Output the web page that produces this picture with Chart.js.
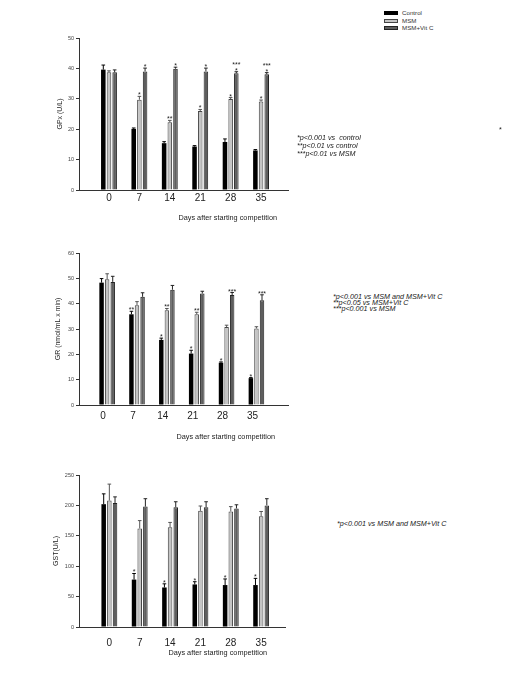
<!DOCTYPE html>
<html>
<head>
<meta charset="utf-8">
<script src="https://cdn.jsdelivr.net/npm/chart.js@4/dist/chart.umd.min.js"></script>
<style>
  html, body { margin: 0; padding: 0; background: #fff; }
  body { width: 513px; height: 685px; position: relative; overflow: hidden; font-family: "Liberation Sans", Arial, sans-serif; }
  .box { position: absolute; left: 0; width: 300px; height: 240px; }
  .note { position: absolute; font-style: italic; font-size: 7.2px; color: #222; line-height: 8px; white-space: nowrap; }
  .legend { position: absolute; left: 384px; top: 9px; font-size: 6.2px; color: #333; }
  .legend div { height: 7.5px; line-height: 7.5px; white-space: nowrap; }
  .legend span.sw { display: inline-block; width: 14px; height: 4px; box-sizing: border-box; margin-right: 4px; vertical-align: middle; }
</style>
</head>
<body>
<div class="legend">
  <div><span class="sw" style="background:#000"></span>Control</div>
  <div><span class="sw" style="background:#c4c4c4;border:1px solid #444"></span>MSM</div>
  <div><span class="sw" style="background:#5e5e5e;border:1px solid #222"></span>MSM+Vit C</div>
</div>

<div class="box" style="top:0px"><canvas id="c1"></canvas></div>
<div class="box" style="top:215px"><canvas id="c2"></canvas></div>
<div class="box" style="top:437px"><canvas id="c3"></canvas></div>

<div class="note" style="left:297px; top:134px; line-height:8px;">*p&lt;0.001 vs &nbsp;control<br>**p&lt;0.01 vs control<br>***p&lt;0.01 vs MSM</div>
<div class="note" style="left:499px; top:126px; font-style:normal;">*</div>
<div class="note" style="left:333px; top:294px; line-height:6px;">*p&lt;0.001 vs MSM and MSM+Vit C<br>**p&lt;0.05 vs MSM+Vit C<br>***p&lt;0.001 vs MSM</div>
<div class="note" style="left:337px; top:520px;">*p&lt;0.001 vs MSM and MSM+Vit C</div>

<script>
// ---------- data ----------
const days = [0, 7, 14, 21, 28, 35];
const seriesNames = ['Control', 'MSM', 'MSM+Vit C'];
const xTitleText = 'Days after starting competition';

// GPx (U/L)
const gpxControl    = [39.6, 20.1, 15.4, 14.3, 15.8, 13.0];
const gpxControlErr = [1.5, 0.3, 0.5, 0.3, 1.0, 0.3];
const gpxMSM        = [38.7, 29.7, 22.3, 26.0, 29.9, 29.1];
const gpxMSMErr     = [0.5, 1.1, 0.6, 0.5, 0.5, 0.5];
const gpxVitC       = [38.7, 39.0, 39.9, 39.0, 38.4, 38.1];
const gpxVitCErr    = [0.8, 1.1, 0.5, 1.1, 0.5, 0.5];
const gpxControlMarks = ['', '', '', '', '', ''];
const gpxMSMMarks     = ['', '*', '**', '*', '*', '*'];
const gpxVitCMarks    = ['', '*', '*', '*', '***\n*', '***\n*'];
const gpxTicks = [0, 10, 20, 30, 40, 50];

// GR (nmol/mL x min)
const grControl    = [48.3, 35.8, 25.7, 20.3, 16.7, 10.6];
const grControlErr = [1.6, 1.2, 0.7, 1.3, 0.3, 0.2];
const grMSM        = [49.6, 39.4, 37.4, 35.8, 30.8, 30.2];
const grMSMErr     = [2.2, 1.4, 0.7, 0.8, 0.7, 0.7];
const grVitC       = [48.6, 42.7, 45.5, 44.0, 43.4, 41.3];
const grVitCErr    = [2.2, 1.6, 1.7, 0.9, 1.0, 2.2];
const grControlMarks = ['', '**', '*', '*', '*', '*'];
const grMSMMarks     = ['', '', '**', '**', '', ''];
const grVitCMarks    = ['', '', '', '', '***', '***'];
const grTicks = [0, 10, 20, 30, 40, 50, 60];

// GST (U/L)
const gstControl    = [202, 78, 65, 70, 69, 69];
const gstControlErr = [17, 10, 6, 4.5, 10, 11];
const gstMSM        = [208, 162, 164, 191, 190, 182];
const gstMSMErr     = [27, 13, 8, 8, 8, 8];
const gstVitC       = [204, 198, 197, 197, 195, 200];
const gstVitCErr    = [10, 13, 9, 9, 6, 11];
const gstControlMarks = ['', '*', '*', '*', '*', '*'];
const gstMSMMarks     = ['', '', '', '', '', ''];
const gstVitCMarks    = ['', '', '', '', '', ''];
const gstTicks = [0, 50, 100, 150, 200, 250];

// ---------- styling ----------
Chart.defaults.font.family = '"Liberation Sans", Arial, sans-serif';
Chart.defaults.animation = false;

const barStyles = [
  { backgroundColor: '#000000', borderColor: '#000000', errColor: '#000000' },
  { backgroundColor: '#c4c4c4', borderColor: '#444444', errColor: '#555555' },
  { backgroundColor: '#5e5e5e', borderColor: '#222222', errColor: '#222222' }
];

const errorBarsPlugin = {
  id: 'errorBars',
  afterDatasetsDraw(chart) {
    const ctx = chart.ctx;
    const ys = chart.scales.y;
    ctx.save();
    chart.data.datasets.forEach((ds, i) => {
      const meta = chart.getDatasetMeta(i);
      meta.data.forEach((bar, j) => {
        const v = ds.data[j].y;
        const e = ds.errors[j];
        const top = ys.getPixelForValue(v + e);
        const half = bar.width * 0.4;
        ctx.strokeStyle = ds.errColor;
        ctx.lineWidth = 1;
        ctx.beginPath();
        ctx.moveTo(bar.x, bar.y);
        ctx.lineTo(bar.x, top);
        ctx.moveTo(bar.x - half, top);
        ctx.lineTo(bar.x + half, top);
        ctx.stroke();
        const m = ds.marks[j];
        if (m) {
          const lines = m.split('\n').reverse();
          ctx.fillStyle = '#222';
          ctx.font = '7px "Liberation Sans", Arial, sans-serif';
          ctx.textAlign = 'center';
          ctx.textBaseline = 'alphabetic';
          lines.forEach((t, k) => {
            ctx.fillText(t, bar.x, top + 1 - k * 6);
          });
        }
      });
    });
    ctx.restore();
  }
};

// x-axis title, right-aligned a little inside the end of the axis line
const xTitlePlugin = {
  id: 'xTitle',
  afterDraw(chart, args, opts) {
    const ctx = chart.ctx;
    const area = chart.chartArea;
    ctx.save();
    ctx.fillStyle = '#222';
    ctx.font = '7.3px "Liberation Sans", Arial, sans-serif';
    ctx.textAlign = 'right';
    ctx.textBaseline = 'middle';
    ctx.fillText(opts.text, area.right + opts.dx, area.bottom + opts.dy);
    ctx.restore();
  }
};

function makeChart(id, cfg) {
  const datasets = cfg.series.map((s, i) => ({
    label: seriesNames[i],
    data: days.map((d, j) => ({ x: d, y: s.values[j] })),
    errors: s.errors,
    marks: s.marks,
    backgroundColor: barStyles[i].backgroundColor,
    borderColor: barStyles[i].borderColor,
    errColor: barStyles[i].errColor,
    borderWidth: i === 0 ? 0 : 1,
    categoryPercentage: 0.56,
    barPercentage: 0.8
  }));
  return new Chart(document.getElementById(id), {
    type: 'bar',
    data: { datasets },
    options: {
      responsive: true,
      maintainAspectRatio: false,
      layout: { padding: { top: 38, right: cfg.rightPad, left: 0, bottom: 0 } },
      plugins: {
        legend: { display: false },
        tooltip: { enabled: false },
        xTitle: { text: xTitleText, dx: cfg.titleDx, dy: cfg.titleDy }
      },
      scales: {
        x: {
          type: 'linear',
          min: cfg.xMin, max: cfg.xMax,
          offset: false,
          afterBuildTicks: (scale) => { scale.ticks = days.map(v => ({ value: v })); },
          afterFit: (scale) => { scale.height = 50; },
          grid: { display: false, drawTicks: false },
          border: { display: true, color: '#333', width: 1 },
          ticks: {
            callback: (v) => String(v),
            font: { size: 10 },
            color: '#222',
            padding: cfg.tickPad,
            labelOffset: cfg.labelOffset,
            maxRotation: 0,
            autoSkip: false
          },
          title: { display: false }
        },
        y: {
          min: cfg.yTicks[0], max: cfg.yTicks[cfg.yTicks.length - 1],
          afterBuildTicks: (scale) => { scale.ticks = cfg.yTicks.map(v => ({ value: v })); },
          afterFit: (scale) => { scale.width = 79; },
          grid: { display: true, drawOnChartArea: false, drawTicks: true, tickLength: 3, color: '#333' },
          border: { display: true, color: '#333', width: 1 },
          ticks: { font: { size: 5.5 }, color: '#444', padding: 2 },
          title: {
            display: true,
            text: cfg.yTitle,
            font: { size: 7 },
            color: '#222',
            padding: { top: cfg.yTitlePad, bottom: 0 }
          }
        }
      }
    },
    plugins: [errorBarsPlugin, xTitlePlugin]
  });
}

makeChart('c1', {
  series: [
    { values: gpxControl, errors: gpxControlErr, marks: gpxControlMarks },
    { values: gpxMSM, errors: gpxMSMErr, marks: gpxMSMMarks },
    { values: gpxVitC, errors: gpxVitCErr, marks: gpxVitCMarks }
  ],
  yTicks: gpxTicks, yTitle: 'GPx (U/L)', yTitlePad: 56,
  xMin: -6.9, xMax: 41.2, rightPad: 12,
  tickPad: 2, labelOffset: 0, titleDx: -11, titleDy: 28
});

makeChart('c2', {
  series: [
    { values: grControl, errors: grControlErr, marks: grControlMarks },
    { values: grMSM, errors: grMSMErr, marks: grMSMMarks },
    { values: grVitC, errors: grVitCErr, marks: grVitCMarks }
  ],
  yTicks: grTicks, yTitle: 'GR (nmol/mL x min)', yTitlePad: 54,
  xMin: -6.6, xMax: 42.4, rightPad: 12,
  tickPad: 5, labelOffset: -4, titleDx: -13, titleDy: 32
});

makeChart('c3', {
  series: [
    { values: gstControl, errors: gstControlErr, marks: gstControlMarks },
    { values: gstMSM, errors: gstMSMErr, marks: gstMSMMarks },
    { values: gstVitC, errors: gstVitCErr, marks: gstVitCMarks }
  ],
  yTicks: gstTicks, yTitle: 'GST(U/L)', yTitlePad: 52,
  xMin: -7.0, xMax: 40.5, rightPad: 15,
  tickPad: 10, labelOffset: 0, titleDx: -18, titleDy: 26
});
</script>
</body>
</html>
